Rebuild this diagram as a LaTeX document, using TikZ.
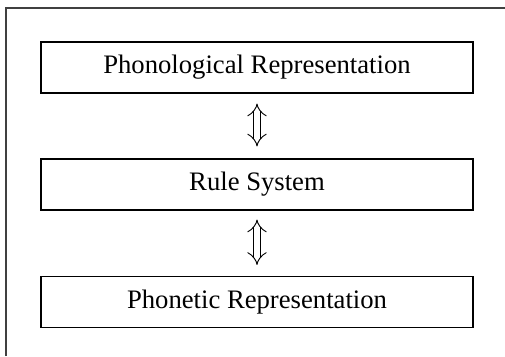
\documentclass[tikz,border=0pt]{standalone}
\usepackage{fontspec}
\setmainfont{Liberation Serif}
\usetikzlibrary{arrows.meta}
\begin{document}
\begin{tikzpicture}[x=0.75pt,y=-0.75pt,
  stagebox/.style={draw=black, line width=0.8pt, rectangle, minimum width=324pt, minimum height=38.25pt, inner sep=0pt, font=\fontsize{20}{24}\selectfont},
  dblarrow/.style={double, double distance=4.5pt, line width=0.7pt, {Implies}-{Implies}},
  frameline/.style={draw=black!75, line width=1.1pt}]
\useasboundingbox (0,0) rectangle (505,356);
\coordinate (fb) at (6,356);
\coordinate (fc) at (6,8);
\coordinate (fr) at (505,8);
\draw[frameline] (fb) -- (fc) -- (fr);
\node[stagebox] (top) at (257,67.5) {Phonological Representation};
\node[stagebox] (mid) at (257,184.5) {Rule System};
\node[stagebox] (bot) at (257,302) {Phonetic Representation};
\draw[dblarrow, shorten <=7.5pt, shorten >=9pt] (top.south) -- (mid.north);
\draw[dblarrow, shorten <=6.75pt, shorten >=8.25pt] (mid.south) -- (bot.north);
\end{tikzpicture}
\end{document}
